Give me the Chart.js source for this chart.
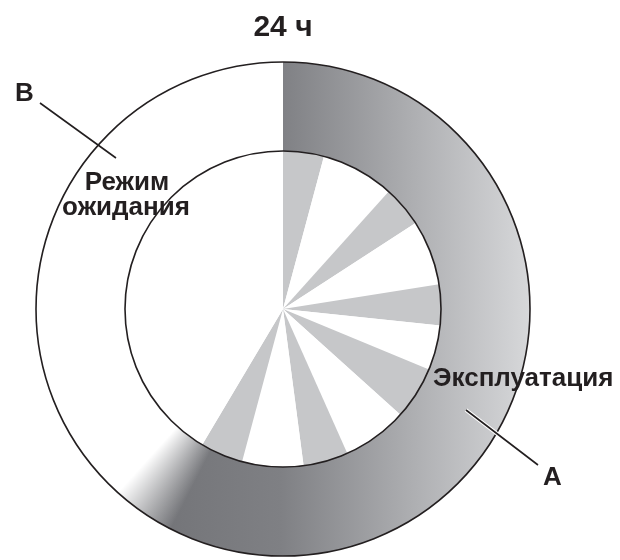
<!DOCTYPE html>
<html>
<head>
<meta charset="utf-8">
<script src="https://cdn.jsdelivr.net/npm/chart.js@4"></script>
<style>
  html, body { margin: 0; padding: 0; background: #fff; }
  #wrap { width: 620px; height: 560px; }
</style>
</head>
<body>
<div id="wrap"><canvas id="cycle"></canvas></div>
<script>
// day split, hours out of 24
const ringLabels = ['Эксплуатация', 'Режим ожидания']
const ringHours = [14.8, 9.2]

// inner pie: alternating on / off stretches inside the day, hours
const cycleState = ['on', 'off', 'on', 'off', 'on', 'off', 'on', 'off', 'on', 'off', 'on', 'off']
const cycleHours = [1.0, 1.8, 1.0, 1.6, 1.0, 1.1, 1.3, 1.6, 1.1, 1.5, 1.05, 9.95]

const INK = '#231f20'
const FONT = "'Liberation Sans', Arial, sans-serif"

// grey band that lightens to the right and fades out to white at its end
let ringCache = null
const ringFill = (chart) => {
    const area = chart.chartArea
    const key = [chart.width, chart.height, area.left, area.top, area.right, area.bottom].join(',')
    if (ringCache && ringCache.key === key) return ringCache.pattern

    const cx = (area.left + area.right) / 2
    const cy = (area.top + area.bottom) / 2
    const r = Math.min(area.right - area.left, area.bottom - area.top) / 2

    const off = document.createElement('canvas')
    off.width = chart.width
    off.height = chart.height
    const g = off.getContext('2d')

    const lin = g.createLinearGradient(cx - r * 0.55, 0, cx + r, 0)
    lin.addColorStop(0, '#727377')
    lin.addColorStop(0.35, '#7f8084')
    lin.addColorStop(1, '#d7d8da')
    g.fillStyle = lin
    g.fillRect(0, 0, off.width, off.height)

    const total = ringHours.reduce((a, b) => a + b, 0)
    const endFrac = ringHours[0] / total
    const fade = 15 / 360
    const con = g.createConicGradient(-Math.PI / 2, cx, cy)
    con.addColorStop(0, 'rgba(255,255,255,0)')
    con.addColorStop(endFrac - fade, 'rgba(255,255,255,0)')
    con.addColorStop(endFrac, 'rgba(255,255,255,1)')
    con.addColorStop(1, 'rgba(255,255,255,1)')
    g.fillStyle = con
    g.fillRect(0, 0, off.width, off.height)

    const pattern = chart.ctx.createPattern(off, 'no-repeat')
    ringCache = { key, pattern }
    return pattern
}

// outlines of the ring and the inner disc
const outlines = {
    id: 'outlines',
    afterDatasetsDraw(chart) {
        const arc = chart.getDatasetMeta(0).data[0]
        if (!arc) return
        const { x, y, outerRadius, innerRadius } = arc
        const ctx = chart.ctx
        ctx.save()
        ctx.strokeStyle = INK
        ctx.lineWidth = 1.6
        ;[outerRadius, innerRadius].forEach(rad => {
            ctx.beginPath()
            ctx.arc(x, y, rad, 0, Math.PI * 2)
            ctx.stroke()
        })
        ctx.restore()
    }
}

// callout letters and state names
const callouts = {
    id: 'callouts',
    afterDraw(chart) {
        const ctx = chart.ctx
        ctx.save()
        ctx.lineCap = 'butt'

        // A: pointer starts inside the grey band, so give it a white halo
        ctx.strokeStyle = '#ffffff'
        ctx.lineWidth = 4
        ctx.beginPath()
        ctx.moveTo(466, 410)
        ctx.lineTo(538, 465)
        ctx.stroke()

        ctx.strokeStyle = INK
        ctx.lineWidth = 1.6
        ctx.beginPath()
        ctx.moveTo(466, 410)
        ctx.lineTo(538, 465)
        ctx.moveTo(40, 103)
        ctx.lineTo(116, 158)
        ctx.stroke()

        ctx.fillStyle = INK
        ctx.textBaseline = 'alphabetic'
        ctx.font = `bold 26px ${FONT}`

        ctx.textAlign = 'left'
        ctx.fillText('В', 15, 101)
        ctx.fillText('А', 543, 485)
        ctx.fillText(ringLabels[0], 433, 386)

        ctx.textAlign = 'center'
        const [w1, w2] = ringLabels[1].split(' ')
        ctx.fillText(w1, 127, 190)
        ctx.fillText(w2, 126, 215)

        ctx.restore()
    }
}

const ctx = document.getElementById('cycle')

new Chart(ctx, {
    type: 'pie',
    data: {
        labels: cycleState,
        datasets: [{
            label: 'День',
            data: ringHours,
            weight: 89,
            backgroundColor: (c) => {
                if (c.dataIndex !== 0) return '#ffffff'
                if (!c.chart.chartArea) return '#7f8084'
                return ringFill(c.chart)
            },
            borderWidth: 0
        }, {
            label: 'Цикл',
            data: cycleHours,
            weight: 158,
            backgroundColor: cycleState.map(s => s === 'on' ? '#c6c7c9' : '#ffffff'),
            borderWidth: 0
        }]
    },
    options: {
        responsive: true,
        maintainAspectRatio: false,
        animation: false,
        events: [],
        layout: {
            padding: { top: 0, bottom: 4, left: 36, right: 90 }
        },
        plugins: {
            legend: { display: false },
            tooltip: { enabled: false },
            title: {
                display: true,
                text: '24 ч',
                color: INK,
                font: { family: FONT, size: 30, weight: 'bold' },
                padding: { top: 10, bottom: 16 }
            }
        }
    },
    plugins: [outlines, callouts]
})
</script>
</body>
</html>
